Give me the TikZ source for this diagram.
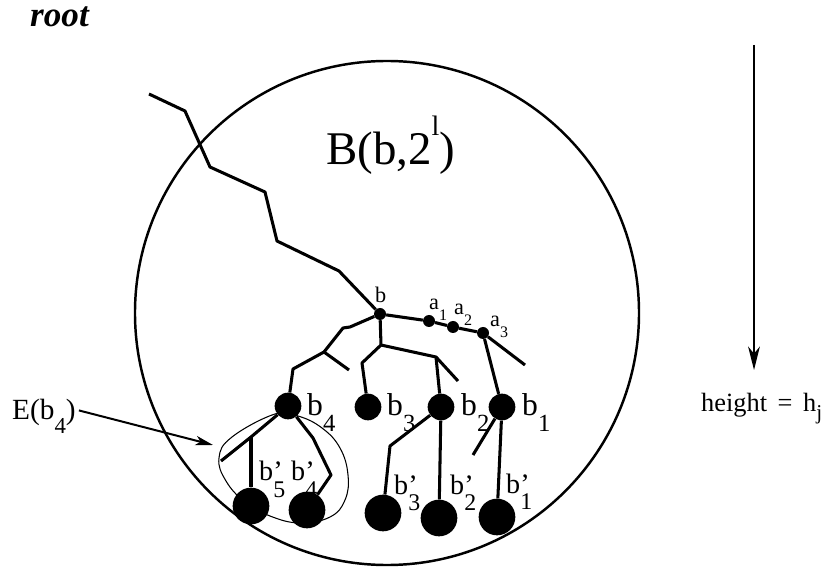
\documentclass[tikz,border=0pt]{standalone}
\usepackage{fontspec}
\setmainfont{Liberation Serif}
\usetikzlibrary{arrows.meta}
% lowered subscript as set in the figure: optional drop, then scale and text
\newcommand\lowsub[3][-0.45em]{\raisebox{#1}{\scalebox{#2}{#3}}}
\newcommand\fs[1]{\fontsize{#1}{#1}\selectfont}
\begin{document}
\begin{tikzpicture}[x=0.03cm,y=-0.03cm,
  edge/.style={line width=2.6pt,line join=round},
  smalldot/.style={circle,fill=black,inner sep=0pt,minimum size=0.36cm},
  middot/.style={circle,fill=black,inner sep=0pt,minimum size=0.80cm},
  bigdot/.style={circle,fill=black,inner sep=0pt,minimum size=1.10cm},
  smalllab/.style={anchor=base west,inner sep=0pt,font=\fs{19pt}},
  midlab/.style={anchor=base west,inner sep=0pt,font=\fs{27pt}},
  biglab/.style={anchor=base west,inner sep=0pt,font=\fs{24pt}}]
\useasboundingbox (0,0) rectangle (830,570);

% the ball
\node[draw,circle,line width=2.1pt,minimum size=15.12cm,inner sep=0pt] (ball) at (387,313) {};
\node[anchor=base west,inner sep=0pt,font=\fs{40pt}] (ballname) at (326,165)
  {B(b,2\raisebox{0.62em}{\scalebox{0.6}{l}})};

% thin outline around E(b_4)
\draw[line width=0.9pt] plot[smooth cycle,tension=0.7] coordinates
  {(275,414) (232,437) (219,458) (226,481) (245,502) (270,516) (300,523)
   (330,517) (345,500) (348,475) (340,448) (322,428) (298,416)};

% bend points of the tree
\coordinate (r0) at (149,94);
\coordinate (r1) at (185,111);
\coordinate (r2) at (210,167);
\coordinate (r3) at (265,192);
\coordinate (r4) at (277,241);
\coordinate (r5) at (339,271);
\coordinate (l1) at (350,327);
\coordinate (l2) at (343,328);
\coordinate (l3) at (324,352);
\coordinate (l4) at (293,369);
\coordinate (l5) at (349,370);
\coordinate (m1) at (381,345);
\coordinate (m2) at (362,363);
\coordinate (m3) at (436,357);
\coordinate (m4) at (458,381);
\coordinate (a4) at (525,365);
\coordinate (k0) at (221,461);
\coordinate (k1) at (251,437);
\coordinate (k2) at (313,438);
\coordinate (k3) at (331,475);
\coordinate (n1) at (390,446);
\coordinate (p1) at (473,455);

% tree vertices
\node[smalldot] (b) at (380,314) {};
\node[smalldot] (a1) at (429,321) {};
\node[smalldot] (a2) at (453,327) {};
\node[smalldot] (a3) at (483,333) {};
\node[middot] (b4) at (288,406) {};
\node[middot] (b3) at (368,407) {};
\node[middot] (b2) at (441,407) {};
\node[middot] (b1) at (502,407) {};
\node[bigdot] (c5) at (251,506) {};
\node[bigdot] (c4) at (307,510) {};
\node[bigdot] (c3) at (383,513) {};
\node[bigdot] (c2) at (439,518) {};
\node[bigdot] (c1) at (497,517) {};

% tree edges
\draw[edge] (r0) -- (r1) -- (r2) -- (r3) -- (r4) -- (r5) -- (b);
\draw[edge] (b) -- (l1) -- (l2) -- (l3) -- (l4) -- (b4);
\draw[edge] (l3) -- (l5);
\draw[edge] (b) -- (m1) -- (m2) -- (b3);
\draw[edge] (m1) -- (m3) -- (b2);
\draw[edge] (m3) -- (m4);
\draw[edge] (b) -- (a1) -- (a2) -- (a3) -- (a4);
\draw[edge] (a3) -- (b1);
\draw[edge] (b4) -- (k1) -- (k0);
\draw[edge] (k1) -- (c5);
\draw[edge] (b4) -- (k2) -- (k3) -- (c4);
\draw[edge] (b2) -- (n1) -- (c3);
\draw[edge] (b2) -- (c2);
\draw[edge] (b1) -- (p1);
\draw[edge] (b1) -- (c1);

% vertex labels
\node[smalllab] (blab) at (375,303) {b};
\node[smalllab] (a1lab) at (429,310) {a\lowsub[-0.45em]{0.72}{1}};
\node[smalllab] (a2lab) at (454,315) {a\lowsub[-0.45em]{0.72}{2}};
\node[smalllab] (a3lab) at (490,327) {a\lowsub[-0.45em]{0.72}{3}};
\node[midlab] (b4lab) at (307,416) {b\lowsub[-0.5em]{0.78}{4}};
\node[midlab] (b3lab) at (387,416) {b\lowsub[-0.5em]{0.78}{3}};
\node[midlab] (b2lab) at (461,416) {b\lowsub[-0.5em]{0.78}{2}};
\node[midlab] (b1lab) at (522,416) {b\lowsub[-0.5em]{0.78}{1}};
\node[biglab] (c5lab) at (259,481) {b\rlap{'}\lowsub[-0.6em]{0.85}{5}};
\node[biglab] (c4lab) at (291,481) {b\rlap{'}\lowsub[-0.6em]{0.85}{4}};
\node[biglab] (c3lab) at (394,495) {b\rlap{'}\lowsub[-0.55em]{0.85}{3}};
\node[biglab] (c2lab) at (450,495) {b\rlap{'}\lowsub[-0.55em]{0.85}{2}};
\node[biglab] (c1lab) at (506,494) {b\rlap{'}\lowsub[-0.55em]{0.85}{1}};

% root label
\node[anchor=base west,inner sep=0pt,font=\fs{30pt}\bfseries\itshape] (root) at (30,27) {root};

% E(b_4) pointer
\node[anchor=base west,inner sep=0pt,font=\fs{25pt}] (elab) at (12,420) {E(b\lowsub[-0.45em]{0.78}{4})};
\coordinate (etip) at (213,445);
\draw[line width=1.7pt,-{Stealth[length=15pt,width=8pt,inset=4pt]}] (elab.east) ++(3,-6) coordinate (estart) -- (etip);

% height direction
\node[anchor=base west,inner sep=0pt,font=\fs{22.5pt}] (hlab) at (701,412)
  {height\hspace{0.4em}=\hspace{0.4em}h\lowsub[-0.3em]{0.8}{j}};
\coordinate (htop) at (754,45);
\draw[line width=1.7pt,-{Stealth[length=20pt,width=10pt,inset=6pt]}] (htop) -- (754,370);
\end{tikzpicture}
\end{document}
